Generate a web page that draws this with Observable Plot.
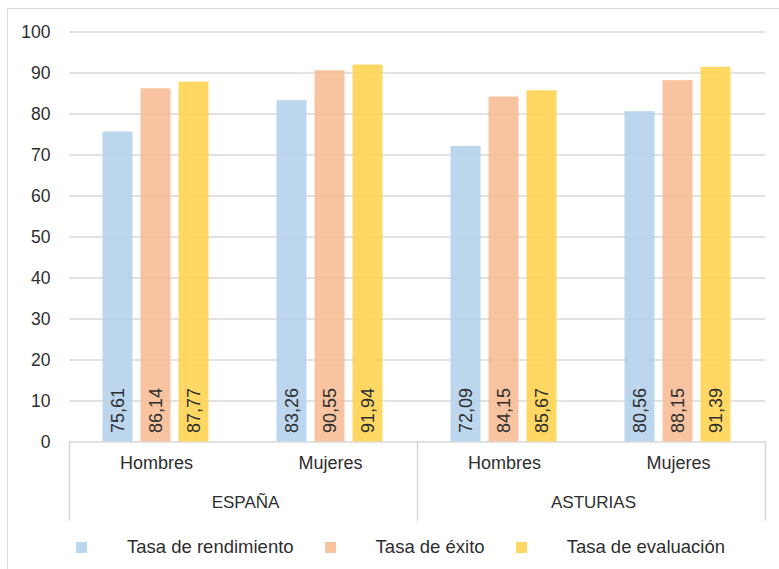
<!DOCTYPE html>
<html><head><meta charset="utf-8">
<script src="https://cdn.jsdelivr.net/npm/d3@7"></script>
<script src="https://cdn.jsdelivr.net/npm/@observablehq/plot@0.6"></script>
<style>
body{margin:0;background:#fff;font-family:"Liberation Sans",Arial,sans-serif;}
#wrap{position:relative;width:779px;height:569px;overflow:hidden;background:#fff;}
#border{position:absolute;left:7px;top:8px;width:800px;height:600px;border:1.5px solid #d9d9d9;box-sizing:border-box;pointer-events:none;}
#legend{position:absolute;left:76px;top:536px;display:flex;align-items:center;height:22px;font-size:18.5px;color:#2e2e2e;white-space:nowrap;}
.sw{width:11px;height:11px;margin-right:40px;flex:none}
.lab{margin-right:31px}
</style></head><body>
<div id="wrap"><div id="chart"></div><div id="legend"></div><div id="border"></div></div>
<script>
const countries = ["ESPAÑA", "ESPAÑA", "ASTURIAS", "ASTURIAS"];
const sexes = ["Hombres", "Mujeres", "Hombres", "Mujeres"];
const series = ["Tasa de rendimiento", "Tasa de éxito", "Tasa de evaluación"];
const rendimiento = [75.61, 83.26, 72.09, 80.56];
const exito = [86.14, 90.55, 84.15, 88.15];
const evaluacion = [87.77, 91.94, 85.67, 91.39];
const yTicks = [0, 10, 20, 30, 40, 50, 60, 70, 80, 90, 100];
const colors = ["#b3d0ec", "#f6bb93", "#ffd34f"];

const keys = countries.map((c, i) => c + "|" + sexes[i]);
const groups = keys.map((k, i) => ({key: k, country: countries[i], sex: sexes[i], first: i === 0 || countries[i] !== countries[i - 1], last: i === keys.length - 1}));
const valuesBySeries = [rendimiento, exito, evaluacion];
const rows = [];
keys.forEach((k, i) => series.forEach((s, j) => rows.push({key: k, serie: s, value: valuesBySeries[j][i]})));
const fmt = v => v.toFixed(2).replace(".", ",");

const W = 779, H = 525, mT = 31.5, mB = 83.5, mL = 67.5, mR = 12;
const plotH = H - mT - mB;
const txt = "#2e2e2e";
const grid = "#d9d9d9";

const marks = [
  Plot.gridY(yTicks, {stroke: grid, strokeOpacity: 1, strokeWidth: 1.5}),
  Plot.barY(rows, {fx: "key", x: "serie", y: "value", fill: "serie", fillOpacity: 0.88}),
  Plot.text(rows, {fx: "key", x: "serie", y: d => 0, text: d => fmt(d.value), rotate: -90, textAnchor: "start", dy: -9, fontSize: 18, fill: txt}),
  Plot.axisY({ticks: yTicks, tickSize: 0, tickPadding: 19, fontSize: 17.5, label: null, color: txt, fill: txt}),
  Plot.text(groups, {fx: "key", text: "sex", frameAnchor: "bottom", dy: 27, fontSize: 18, fill: txt}),
  Plot.text(groups.filter(g => g.first), {fx: "key", text: "country", frameAnchor: "bottom-right", textAnchor: "middle", dy: 66, dx: 2, fontSize: 17, fill: txt})
];
groups.filter(g => g.first).forEach(g => marks.push(Plot.frame({anchor: "left", fx: g.key, insetTop: plotH, insetBottom: -78, stroke: grid, strokeWidth: 1.5})));
groups.filter(g => g.last).forEach(g => marks.push(Plot.frame({anchor: "right", fx: g.key, insetTop: plotH, insetBottom: -78, stroke: grid, strokeWidth: 1.5})));

const chart = Plot.plot({
  width: W, height: H,
  marginTop: mT, marginBottom: mB, marginLeft: mL, marginRight: mR,
  style: {fontFamily: '"Liberation Sans", Arial, sans-serif', background: "transparent", overflow: "visible"},
  fx: {domain: keys, padding: 0, axis: null, label: null},
  x: {domain: series, paddingInner: 0.2, paddingOuter: 0.86, axis: null, label: null},
  y: {domain: [0, 100], axis: null, label: null},
  color: {domain: series, range: colors},
  marks
});
document.getElementById("chart").appendChild(chart);

const legend = document.getElementById("legend");
series.forEach((s, j) => {
  const sw = document.createElement("span"); sw.className = "sw"; sw.style.background = colors[j]; sw.style.opacity = 0.88;
  const lb = document.createElement("span"); lb.className = "lab"; lb.textContent = s;
  legend.appendChild(sw); legend.appendChild(lb);
});
</script></body></html>
